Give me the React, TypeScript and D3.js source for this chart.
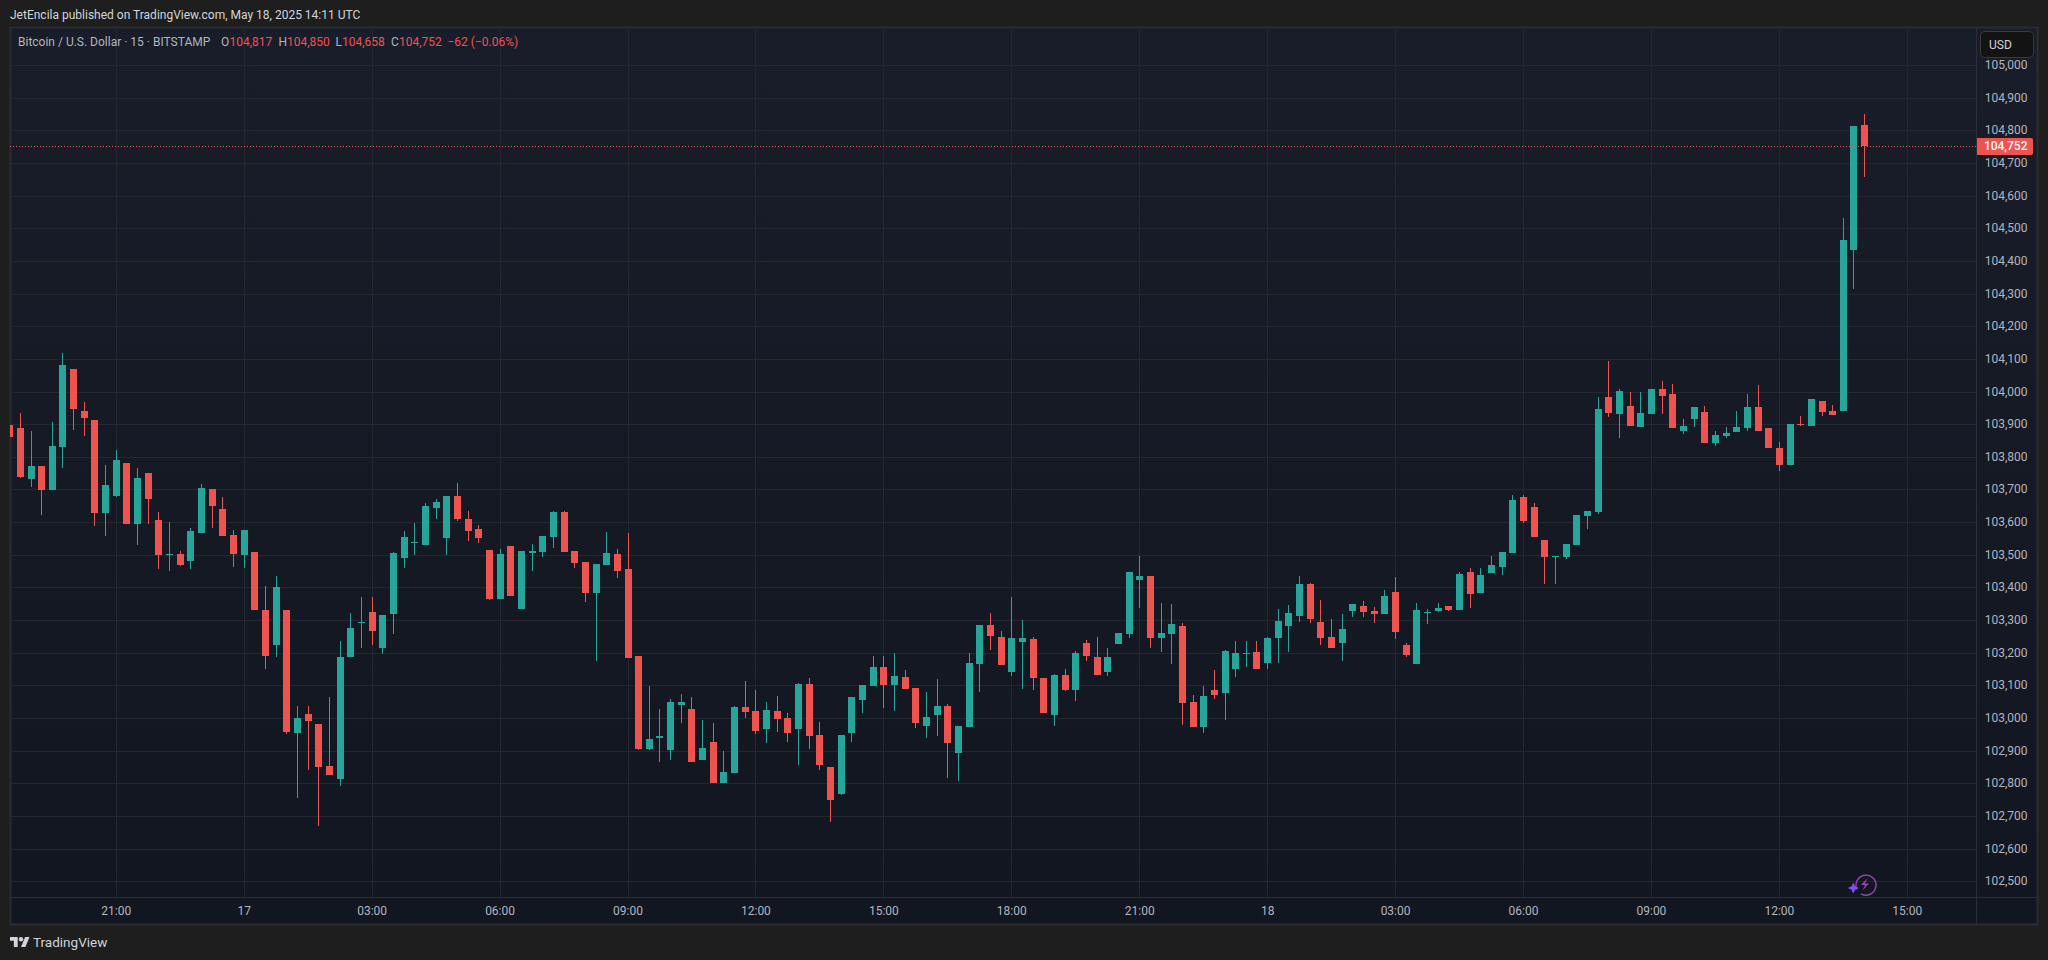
import * as d3 from "d3";

const WIDTH = 2048;
const HEIGHT = 960;

// candle number 0 is the 21:00 candle on May 16, one candle = 15 min
const firstCandle = -10;

const opens = [
  103897,103888,103732,103771,103698,103830,104069,103940,103912,103627,
  103680,103781,103594,103750,103606,103499,103502,103480,103566,103701,
  103640,103560,103499,103508,103330,103223,103330,102954,103012,102981,
  102853,102813,103186,103291,103325,103214,103318,103490,103536,103530,
  103643,103551,103680,103609,103579,103514,103364,103527,103334,103505,
  103508,103554,103631,103511,103478,103383,103469,103502,103456,103190,
  102905,102939,102902,103040,103028,102871,102926,102801,102832,103034,
  103021,102966,103021,103000,102966,103104,102948,102850,102767,102954,
  103055,103098,103156,103101,103126,103092,102976,103009,103037,102893,
  102972,103165,103285,103248,103141,103233,103242,103122,103009,103132,
  103086,103230,103187,103141,103227,103257,103423,103435,103245,103257,
  103282,103049,102972,103086,103077,103150,103196,103202,103168,103245,
  103282,103312,103410,103294,103248,103230,103328,103343,103328,103319,
  103386,103224,103165,103322,103328,103343,103331,103447,103383,103444,
  103463,103505,103677,103646,103545,103493,103493,103530,103619,103631,
  103983,103931,103956,103891,103931,104008,103992,103879,103916,103937,
  103842,103864,103876,103888,103953,103888,103827,103775,103900,103894,
  103971,103940,103940,104433,104817,
];
const highs = [
  103897,103934,103879,103771,103906,104118,104069,103967,103912,103775,
  103820,103781,103765,103750,103631,103600,103511,103582,103716,103701,
  103676,103575,103575,103508,103404,103435,103330,103036,103036,102981,
  103064,103235,103321,103370,103370,103315,103508,103573,103597,103658,
  103671,103680,103720,103634,103591,103514,103518,103527,103511,103533,
  103557,103634,103634,103511,103478,103472,103570,103518,103567,103190,
  103098,103028,103058,103073,103064,102994,102985,102899,103037,103113,
  103086,103049,103067,103015,103107,103122,102988,102850,102948,103064,
  103101,103190,103190,103199,103147,103092,103080,103119,103043,102976,
  103199,103285,103322,103266,103371,103300,103248,103122,103135,103150,
  103205,103239,103248,103214,103260,103447,103496,103435,103352,103349,
  103291,103070,103098,103147,103208,103236,103236,103236,103248,103334,
  103346,103435,103413,103361,103303,103319,103349,103358,103340,103392,
  103432,103230,103352,103334,103352,103343,103447,103459,103459,103496,
  103508,103683,103683,103659,103545,103496,103533,103622,103634,103983,
  104093,104008,103999,103999,104008,104032,104023,103916,103953,103956,
  103879,103891,103940,103992,104020,103888,103845,103900,103925,103977,
  103971,103959,104531,104813,104850,
];
const lows = [
  103860,103735,103707,103621,103698,103765,103882,103863,103588,103557,
  103676,103594,103529,103594,103456,103450,103465,103456,103566,103582,
  103557,103462,103459,103330,103150,103186,102951,102755,102840,102669,
  102825,102791,103186,103214,103223,103196,103257,103459,103499,103530,
  103609,103499,103603,103542,103536,103361,103364,103374,103334,103450,
  103493,103521,103508,103459,103355,103174,103469,103429,103184,102902,
  102902,102865,102871,102985,102865,102871,102801,102801,102832,103000,
  102951,102923,102957,102926,102856,102905,102841,102682,102764,102926,
  103015,103098,103031,103021,103089,102969,102939,102945,102816,102807,
  102972,103080,103208,103162,103129,103089,103086,103015,102975,103083,
  103052,103175,103132,103129,103227,103245,103337,103214,103202,103165,
  102979,102972,102954,103058,102994,103126,103156,103150,103150,103168,
  103202,103294,103291,103224,103214,103175,103309,103309,103291,103319,
  103242,103187,103165,103288,103325,103328,103331,103337,103383,103444,
  103438,103505,103597,103554,103410,103410,103487,103530,103579,103625,
  103922,103858,103894,103891,103931,103931,103888,103870,103891,103842,
  103833,103858,103876,103879,103879,103827,103756,103775,103894,103894,
  103925,103928,103940,104314,104658,
];
const closes = [
  103860,103738,103771,103698,103833,104081,103946,103918,103627,103713,
  103790,103594,103735,103670,103499,103502,103468,103572,103704,103649,
  103557,103502,103575,103330,103189,103401,102957,103000,102990,102849,
  102825,103186,103275,103294,103266,103315,103505,103554,103539,103649,
  103662,103680,103609,103573,103551,103364,103502,103374,103511,103511,
  103557,103631,103508,103475,103383,103472,103505,103450,103184,102905,
  102936,102945,103049,103049,102865,102908,102801,102835,103034,103018,
  102960,103024,102997,102954,103104,102945,102856,102749,102948,103064,
  103101,103156,103101,103129,103089,102985,103003,103037,102923,102976,
  103168,103285,103251,103162,103245,103245,103122,103015,103132,103086,
  103199,103190,103132,103187,103260,103447,103435,103245,103260,103288,
  103046,102972,103067,103070,103205,103199,103199,103150,103245,103297,
  103322,103410,103303,103245,103214,103273,103349,103325,103319,103374,
  103263,103193,103331,103325,103337,103331,103441,103380,103438,103469,
  103508,103668,103603,103554,103493,103496,103533,103622,103634,103946,
  103934,104002,103894,103934,104008,103986,103888,103894,103953,103842,
  103867,103873,103891,103953,103879,103827,103775,103900,103897,103977,
  103937,103928,104464,104813,104752,
];

const timeLabels = ["21:00","17","03:00","06:00","09:00","12:00","15:00","18:00","21:00","18","03:00","06:00","09:00","12:00","15:00"];
const priceTicks = d3.range(102500, 105001, 100);
const lastPrice = 104752;

const UP = "#26a69a";
const DOWN = "#ef5350";
const GRID = "#232730";
const AXIS_TEXT = "#b2b5be";
const BORDER = "#2b2d31";
const FONT = "Roboto, sans-serif";

// pane box
const left = 10;
const right = 1977;
const top = 27;
const bottom = 897;

const x = d3.scaleLinear().domain([0, 168]).range([116.3, 1907.3]);
const y = d3.scaleLinear().domain([102500, 104800]).range([881.3, 130.3]);
const fmt = d3.format(",");

const candles = opens.map((o, i) => ({
  n: firstCandle + i,
  o,
  h: highs[i],
  l: lows[i],
  c: closes[i],
}));

export default function App() {
  const px = (p: number) => Math.round(y(p));
  return (
    <svg
      width={WIDTH}
      height={HEIGHT}
      style={{ position: "absolute", left: 0, top: 0, display: "block" }}
      fontFamily={FONT}
    >
      <defs>
        <linearGradient id="paneBg" x1="0" y1="0" x2="0" y2="1">
          <stop offset="0" stopColor="#191d29" />
          <stop offset="1" stopColor="#121620" />
        </linearGradient>
        <clipPath id="pane">
          <rect x={left} y={top} width={right - left} height={bottom - top} />
        </clipPath>
      </defs>

      <rect width={WIDTH} height={HEIGHT} fill="#1e1e1e" />
      <text x={10} y={19} fontSize={12} fill="#d1d4dc">
        JetEncila published on TradingView.com, May 18, 2025 14:11 UTC
      </text>

      <rect x={10.5} y={27.5} width={2027} height={897} fill="url(#paneBg)" stroke={BORDER} strokeWidth={2} />

      {/* grid */}
      <g shapeRendering="crispEdges" stroke={GRID} clipPath="url(#pane)">
        {priceTicks.map((p) => (
          <line key={p} x1={left} x2={right} y1={px(p) + 0.5} y2={px(p) + 0.5} />
        ))}
        {timeLabels.map((t, i) => {
          const gx = Math.floor(x(i * 12)) + 0.5;
          return <line key={i} x1={gx} x2={gx} y1={top} y2={bottom} />;
        })}
      </g>

      {/* candles */}
      <g shapeRendering="crispEdges" clipPath="url(#pane)">
        {candles.map((d) => {
          const cx = Math.floor(x(d.n));
          const color = d.c >= d.o ? UP : DOWN;
          const bodyTop = px(Math.max(d.o, d.c));
          const bodyBottom = px(Math.min(d.o, d.c));
          return (
            <g key={d.n} fill={color}>
              <rect x={cx} width={1} y={px(d.h)} height={Math.max(1, px(d.l) - px(d.h))} />
              <rect x={cx - 3} width={7} y={bodyTop} height={Math.max(1, bodyBottom - bodyTop)} />
            </g>
          );
        })}
      </g>

      {/* last price line */}
      <line
        x1={left}
        x2={right}
        y1={px(lastPrice) + 0.5}
        y2={px(lastPrice) + 0.5}
        stroke={DOWN}
        strokeDasharray="1 2"
        shapeRendering="crispEdges"
      />

      {/* axis frame */}
      <g stroke="#2a2e39" shapeRendering="crispEdges">
        <line x1={right - 0.5} x2={right - 0.5} y1={top} y2={924} />
        <line x1={left} x2={2037} y1={bottom + 0.5} y2={bottom + 0.5} />
      </g>

      {/* price axis */}
      <g fontSize={12} fill={AXIS_TEXT}>
        {priceTicks.map((p) => (
          <text key={p} x={2027.5} y={y(p) + 4} textAnchor="end">
            {fmt(p)}
          </text>
        ))}
      </g>
      <path d="M1977 138h54a2 2 0 0 1 2 2v13a2 2 0 0 1 -2 2h-54z" fill={DOWN} />
      <text x={2027.5} y={y(lastPrice) + 4.3} textAnchor="end" fontSize={12} fontWeight={500} fill="#ffffff">
        {fmt(lastPrice)}
      </text>

      {/* USD button */}
      <rect x={1980.5} y={31.5} width={53} height={26} rx={4} fill="#131313" stroke="#3a3a3a" />
      <text x={1989} y={48.5} fontSize={12} fill="#d1d4dc">
        USD
      </text>

      {/* time axis */}
      <g fontSize={12} fill={AXIS_TEXT} textAnchor="middle">
        {timeLabels.map((t, i) => (
          <text key={i} x={x(i * 12)} y={915}>
            {t}
          </text>
        ))}
      </g>

      {/* legend */}
      <g fontSize={12} fill={AXIS_TEXT}>
        <text x={18} y={46}>Bitcoin / U.S. Dollar · 15 · BITSTAMP</text>
        <text x={221} y={46}>O</text>
        <text x={278.5} y={46}>H</text>
        <text x={335.5} y={46}>L</text>
        <text x={391} y={46}>C</text>
      </g>
      <g fontSize={12} fill={DOWN}>
        <text x={229.5} y={46}>104,817</text>
        <text x={287} y={46}>104,850</text>
        <text x={342} y={46}>104,658</text>
        <text x={399} y={46}>104,752</text>
        <text x={447.5} y={46}>−62 (−0.06%)</text>
      </g>

      {/* snapshot icon */}
      <g fill="none">
        <path d="M1857 889.5a10 10 0 1 1 4 4.3" stroke="#9c3fb5" strokeWidth={1.4} />
        <path d="M1867.5 878l-6.5 7h4l-2.5 5.5 6.5 -7h-4z" fill="#9c3fb5" />
        <path d="M1853.3 882.5l1.8 3.7 3.7 1.8 -3.7 1.8 -1.8 3.7 -1.8 -3.7 -3.7 -1.8 3.7 -1.8z" fill="#7c4dff" />
      </g>

      {/* logo */}
      <g transform="translate(10 937) scale(0.55)" fill="#d1d4dc">
        <path d="M14 18H7V7H0V0h14v18zM28 18h-8l7.5-18h8L28 18z" />
        <circle cx={20} cy={4} r={4} />
      </g>
      <text x={33} y={946.5} fontSize={13.5} fill="#d1d4dc">
        TradingView
      </text>
    </svg>
  );
}
